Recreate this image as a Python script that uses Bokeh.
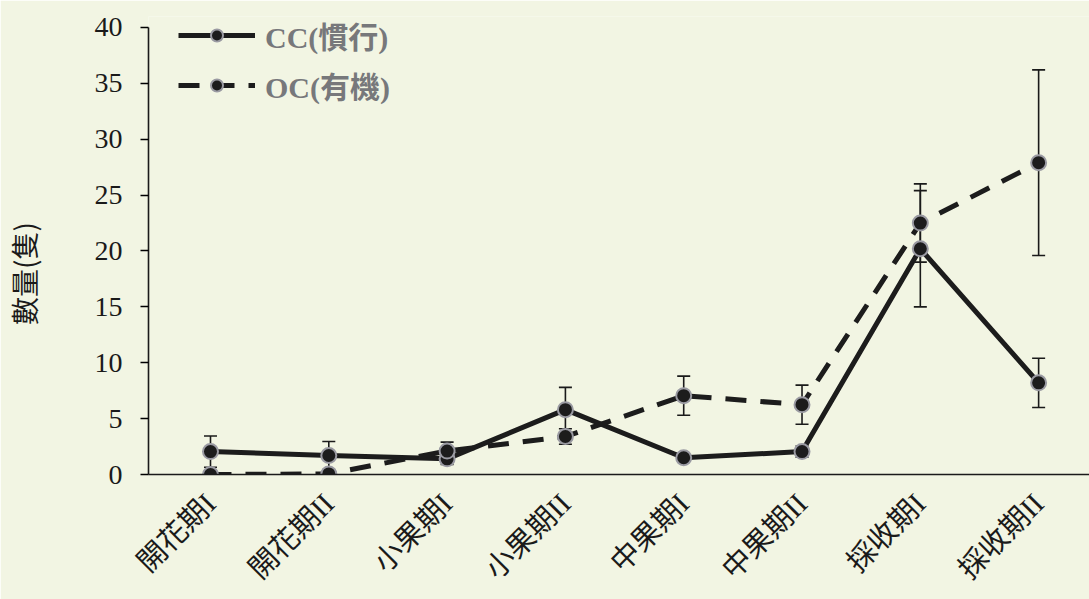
from bokeh.plotting import figure
from bokeh.models import ColumnDataSource, FixedTicker, Range1d, Legend, LegendItem
from bokeh.embed import file_html
from bokeh.resources import INLINE

stages = ["開花期I", "開花期II", "小果期I", "小果期II", "中果期I", "中果期II", "採收期I", "採收期II"]
cc_mean = [2.05, 1.7, 1.4, 5.8, 1.5, 2.05, 20.2, 8.2]
cc_err = [1.4, 1.25, 0.5, 2.0, 0.3, 0.5, 5.2, 2.2]
oc_mean = [0.0, 0.05, 2.1, 3.4, 7.05, 6.25, 22.5, 27.9]
oc_err = [0.0, 0.0, 0.8, 0.7, 1.75, 1.75, 3.5, 8.3]
y_ticks = [0, 5, 10, 15, 20, 25, 30, 35, 40]
series_labels = ["CC(慣行)", "OC(有機)"]
y_label = "數量(隻)"

BG = "#f2f5e3"
SERIF_CJK = "'Liberation Serif', 'Noto Sans CJK TC'"

xs = list(range(len(stages)))

p = figure(width=1089, height=599, output_backend="svg", toolbar_location=None,
           x_range=Range1d(-0.524, 7.43), y_range=Range1d(0, 40.98),
           min_border_left=148, min_border_top=16, min_border_right=0, min_border_bottom=124)
p.background_fill_color = BG
p.border_fill_color = BG
p.outline_line_color = None
p.grid.visible = False

# error bars
half_cap = 0.055
for mean, err in ((cc_mean, cc_err), (oc_mean, oc_err)):
    ex = [x for x, e in zip(xs, err) if e > 0]
    lo = [m - e for m, e in zip(mean, err) if e > 0]
    hi = [m + e for m, e in zip(mean, err) if e > 0]
    src = ColumnDataSource(dict(x=ex, lo=lo, hi=hi,
                                xl=[x - half_cap for x in ex], xr=[x + half_cap for x in ex]))
    p.segment(x0="x", y0="lo", x1="x", y1="hi", source=src, line_color="#1a1a1a", line_width=1.6)
    p.segment(x0="xl", y0="lo", x1="xr", y1="lo", source=src, line_color="#1a1a1a", line_width=1.6)
    p.segment(x0="xl", y0="hi", x1="xr", y1="hi", source=src, line_color="#1a1a1a", line_width=1.6)

cc_src = ColumnDataSource(dict(x=xs, y=cc_mean))
oc_src = ColumnDataSource(dict(x=xs, y=oc_mean))

cc_line = p.line("x", "y", source=cc_src, line_color="#1c1c1c", line_width=5)
cc_pts = p.scatter("x", "y", source=cc_src, size=15, fill_color="#1c1c1c",
                   line_color="#9a9aa2", line_width=2)
oc_line = p.line("x", "y", source=oc_src, line_color="#1c1c1c", line_width=5, line_dash="21 14")
oc_pts = p.scatter("x", "y", source=oc_src, size=15, fill_color="#1c1c1c",
                   line_color="#9a9aa2", line_width=2)

legend = Legend(items=[LegendItem(label=series_labels[0], renderers=[cc_line, cc_pts]),
                       LegendItem(label=series_labels[1], renderers=[oc_line, oc_pts])],
                location=(30, 367), glyph_width=77, glyph_height=30, spacing=6,
                padding=0, margin=0, label_standoff=10,
                label_text_font=SERIF_CJK, label_text_font_style="bold",
                label_text_font_size="30px", label_text_color="#77787b",
                background_fill_alpha=0, border_line_color=None)
p.add_layout(legend)

# axes
p.xaxis.ticker = FixedTicker(ticks=xs)
p.xaxis.major_label_overrides = {x: s for x, s in zip(xs, stages)}
p.xaxis.major_label_orientation = 0.785398
p.xaxis.major_label_text_font = SERIF_CJK
p.xaxis.major_label_text_font_size = "29px"
p.xaxis.major_label_text_color = "#1a1a1a"
p.xaxis.major_label_standoff = 24
p.xaxis.major_tick_out = 0
p.xaxis.major_tick_in = 0
p.xaxis.minor_tick_out = 0
p.xaxis.minor_tick_in = 0
p.xaxis.axis_line_color = "#1a1a1a"
p.xaxis.axis_line_width = 1.6

p.yaxis.ticker = FixedTicker(ticks=y_ticks)
p.yaxis.bounds = (y_ticks[0], y_ticks[-1])
p.yaxis.major_label_text_font = "Liberation Serif"
p.yaxis.major_label_text_font_size = "28px"
p.yaxis.major_label_text_color = "#1a1a1a"
p.yaxis.major_label_standoff = 18
p.yaxis.major_tick_out = 8
p.yaxis.major_tick_in = 0
p.yaxis.minor_tick_out = 0
p.yaxis.minor_tick_in = 0
p.yaxis.major_tick_line_width = 1.4
p.yaxis.axis_line_color = "#1a1a1a"
p.yaxis.axis_line_width = 1.6
# trailing ideographic spaces push the visible title a little below the axis centre
p.yaxis.axis_label = y_label + "\u3000\u3000"
p.yaxis.axis_label_text_font = "Noto Sans CJK TC"
p.yaxis.axis_label_text_font_style = "normal"
p.yaxis.axis_label_text_font_size = "28px"
p.yaxis.axis_label_text_color = "#1a1a1a"
p.yaxis.axis_label_standoff = 48

open("out.html", "w").write(file_html(p, INLINE))
